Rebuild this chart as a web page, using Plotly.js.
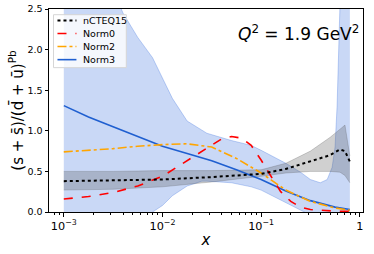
<!DOCTYPE html>
<html>
<head>
<meta charset="utf-8">
<script src="https://cdn.plot.ly/plotly-3.0.1.min.js"></script>
<style>html,body{margin:0;padding:0;background:#fff;}#chart{width:374px;height:254px;}</style>
</head>
<body>
<div id="chart"></div>
<script>
// ---- data ----
const xLine = [0.001, 0.00178, 0.00316, 0.00562, 0.01, 0.0178, 0.0316, 0.0562, 0.1, 0.178, 0.316, 0.562, 0.794];
const norm3 = [1.31, 1.17, 1.05, 0.93, 0.81, 0.72, 0.63, 0.52, 0.40, 0.26, 0.14, 0.06, 0.03];
const norm2 = [0.74, 0.76, 0.78, 0.81, 0.83, 0.84, 0.80, 0.66, 0.48, 0.27, 0.13, 0.05, 0.02];

const xNorm0 = [0.001, 0.00178, 0.00316, 0.00562, 0.01, 0.0178, 0.0316, 0.0398, 0.0501, 0.0631, 0.0794, 0.1, 0.126, 0.158, 0.2, 0.251, 0.316, 0.398, 0.562, 0.794];
const norm0 = [0.16, 0.19, 0.24, 0.32, 0.44, 0.63, 0.83, 0.90, 0.93, 0.91, 0.82, 0.64, 0.44, 0.25, 0.13, 0.06, 0.03, 0.02, 0.01, 0.01];

const xCteq = [0.001, 0.00316, 0.01, 0.0316, 0.1, 0.178, 0.316, 0.398, 0.501, 0.631, 0.708, 0.794];
const cteq = [0.38, 0.39, 0.40, 0.43, 0.47, 0.53, 0.62, 0.66, 0.70, 0.77, 0.75, 0.62];
const cteqUp = [0.50, 0.50, 0.51, 0.51, 0.52, 0.60, 0.75, 0.83, 0.92, 1.02, 1.07, 0.69];
const cteqLo = [0.27, 0.28, 0.31, 0.37, 0.44, 0.48, 0.50, 0.50, 0.50, 0.49, 0.45, 0.36];

const xBand3 = [0.001, 0.00178, 0.00316, 0.00398, 0.00562, 0.00794, 0.01, 0.0126, 0.0178, 0.0251, 0.0282, 0.0501, 0.0794, 0.1, 0.178, 0.251, 0.316, 0.398, 0.468, 0.525, 0.562, 0.589, 0.617, 0.646, 0.794];
const band3Up = [4.5, 3.5, 2.75, 2.45, 2.15, 1.9, 1.65, 1.40, 1.12, 1.0, 0.97, 0.88, 0.82, 0.76, 0.60, 0.49, 0.40, 0.36, 0.40, 0.55, 0.80, 1.30, 2.0, 3.0, 4.0];
const band3Lo = [-1.5, -1.0, -0.6, -0.45, -0.2, 0.0, 0.08, 0.20, 0.32, 0.38, 0.38, 0.36, 0.31, 0.27, 0.11, 0.02, -0.05, -0.1, -0.2, -0.2, -0.2, -0.2, -0.2, -0.2, -0.2];

const names = ['nCTEQ15', 'Norm0', 'Norm2', 'Norm3'];
const colors = ['#000000', '#ff0000', '#ffa500', '#1f5fd0'];
const dashes = ['dot', 'dash', 'dashdot', 'solid'];
const widths = [2, 1.6, 1.6, 1.6];

// ---- traces ----
const blueFill = 'rgba(40,100,220,0.25)';
const blueEdge = 'rgba(40,100,220,0.35)';
const grayFill = 'rgba(80,80,80,0.27)';

const traces = [
  {x: xBand3, y: band3Lo, mode: 'lines', line: {color: blueEdge, width: 0.8}, showlegend: false, hoverinfo: 'skip'},
  {x: xBand3, y: band3Up, mode: 'lines', line: {color: blueEdge, width: 0.8}, fill: 'tonexty', fillcolor: blueFill, showlegend: false, hoverinfo: 'skip'},
  {x: xCteq, y: cteqLo, mode: 'lines', line: {color: 'rgba(80,80,80,0.3)', width: 0.8}, showlegend: false, hoverinfo: 'skip'},
  {x: xCteq, y: cteqUp, mode: 'lines', line: {color: 'rgba(80,80,80,0.3)', width: 0.8}, fill: 'tonexty', fillcolor: grayFill, showlegend: false, hoverinfo: 'skip'},
  {x: xLine, y: norm3, name: names[3], mode: 'lines', line: {color: colors[3], width: widths[3], dash: dashes[3]}, showlegend: false},
  {x: xLine, y: norm2, name: names[2], mode: 'lines', line: {color: colors[2], width: widths[2], dash: dashes[2]}, showlegend: false},
  {x: xNorm0, y: norm0, name: names[1], mode: 'lines', line: {color: colors[1], width: widths[1], dash: dashes[1]}, showlegend: false},
  {x: xCteq, y: cteq, name: names[0], mode: 'lines', line: {color: colors[0], width: widths[0], dash: dashes[0]}, showlegend: false}
];

// ---- compact legend (matplotlib-like) in paper coordinates ----
const L = 48.5, R = 363.3, T = 9.3, B = 212.5;
const px = v => (v - L) / (R - L);
const py = v => (B - v) / (B - T);
const shapes = [{
  type: 'rect', xref: 'paper', yref: 'paper', x0: px(53), x1: px(126), y0: py(68), y1: py(15),
  fillcolor: 'rgba(255,255,255,0.8)', line: {color: '#d6d6d6', width: 1}, layer: 'above'
}];
const annotations = [];
names.forEach((n, i) => {
  const yy = py(20.7 + i * 13.1);
  shapes.push({type: 'line', xref: 'paper', yref: 'paper', x0: px(57), x1: px(76), y0: yy, y1: yy,
    line: {color: colors[i], width: widths[i], dash: dashes[i]}, layer: 'above'});
  annotations.push({xref: 'paper', yref: 'paper', x: px(81), y: yy, xanchor: 'left', yanchor: 'middle',
    showarrow: false, text: n, font: {size: 9.5, color: '#000'}});
});
annotations.push({
  xref: 'paper', yref: 'paper', x: 0.995, y: 0.88, xanchor: 'right', yanchor: 'middle', showarrow: false,
  text: '<i>Q</i><sup>2</sup> = 1.9 GeV<sup>2</sup>', font: {size: 17, color: '#000'}
});

const layout = {
  width: 374, height: 254,
  margin: {l: 48.5, r: 10.7, t: 9.3, b: 41.5, pad: 0},
  paper_bgcolor: '#fff', plot_bgcolor: '#fff',
  font: {family: 'DejaVu Sans', size: 10, color: '#000'},
  showlegend: false,
  xaxis: {
    type: 'log', range: [-3.15, 0.033], dtick: 1, exponentformat: 'power',
    showgrid: false, zeroline: false, showline: true, linecolor: '#000', linewidth: 1, mirror: true,
    ticks: 'outside', ticklen: 3.5, tickcolor: '#000', tickfont: {size: 9},
    minor: {ticks: 'outside', ticklen: 2, tickcolor: '#000', dtick: 'D1', showgrid: false},
    title: {text: '<i>x</i>', font: {size: 15}, standoff: 2}
  },
  yaxis: {
    range: [0, 2.5], dtick: 0.5, tickformat: '.1f',
    showgrid: false, zeroline: false, showline: true, linecolor: '#000', linewidth: 1, mirror: true,
    ticks: 'outside', ticklen: 3.5, tickcolor: '#000', tickfont: {size: 9.5},
    title: {text: '(s + s̄)/(d̄ + ū)<sup>Pb</sup>', font: {size: 15}, standoff: 0}
  },
  shapes: shapes,
  annotations: annotations
};

Plotly.newPlot('chart', traces, layout, {staticPlot: true, displayModeBar: false});
</script>
</body>
</html>
